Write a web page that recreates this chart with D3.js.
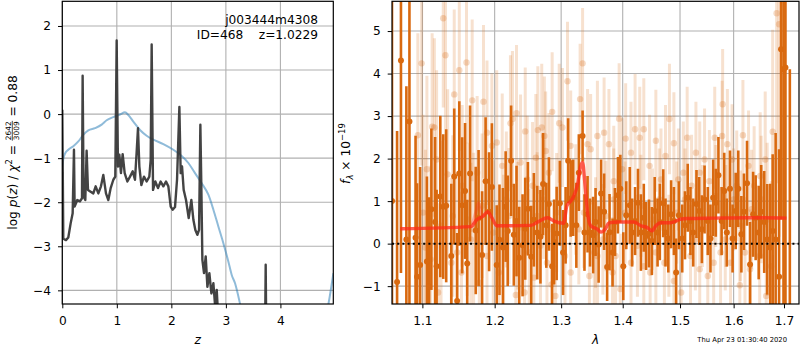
<!DOCTYPE html>
<html>
<head>
<meta charset="utf-8">
<script src="https://cdn.jsdelivr.net/npm/d3@7"></script>
<style>
  body { margin: 0; background: #fff; }
  svg { display: block; font-family: "DejaVu Sans", sans-serif; }
</style>
</head>
<body>
<figure id="chart" style="margin:0"></figure>
<script>
// ---- p(z) panel ----
const pzTicksX = [0, 1, 2, 3, 4];
const pzTicksY = [-4, -3, -2, -1, 0, 1, 2];

// dark curve: log p(z) from the fit
const darkZ = [0.000, 0.018, 0.067, 0.110, 0.153, 0.190, 0.214, 0.226, 0.275, 0.324, 0.361, 0.373, 0.391, 0.422, 0.446,
  0.471, 0.520, 0.569, 0.612, 0.661, 0.709, 0.752, 0.801, 0.844, 0.887, 0.936, 0.972, 0.997, 1.021, 1.046, 1.076,
  1.107, 1.144, 1.193, 1.242, 1.291, 1.333, 1.364, 1.388, 1.413, 1.450, 1.498, 1.547, 1.596, 1.621, 1.639, 1.664,
  1.706, 1.755, 1.804, 1.853, 1.902, 1.945, 1.988, 2.024, 2.067, 2.104, 2.147, 2.171, 2.196, 2.226, 2.269, 2.318,
  2.367, 2.404, 2.440, 2.477, 2.508, 2.532, 2.550, 2.569, 2.599, 2.630, 2.661, 2.697, 2.734, 2.771, 2.801, 2.832,
  2.862, 2.950, 3.300, 3.715, 3.730, 3.745, 4.000];
const darkLogP = [0.10, -2.83, -2.86, -2.80, -2.48, -2.25, -0.81, -2.10, -1.95, -1.98, -1.91, 0.87, -1.87, -1.95, -0.83,
  -1.72, -1.76, -1.80, -1.64, -1.80, -1.64, -1.38, -1.80, -1.95, -1.68, -1.49, -1.42, 1.67, -1.19, -0.92, -1.34,
  -0.91, -1.34, -1.53, -1.42, -1.30, -1.49, -0.85, -0.32, -1.19, -1.61, -1.42, -1.53, -1.42, -1.04, 1.58, -1.72,
  -1.53, -1.68, -1.53, -1.64, -1.53, -1.64, -2.10, -2.17, -2.11, -1.49, 0.16, -1.34, -1.19, -1.72, -1.95, -2.36,
  -1.95, -2.40, -2.63, -2.74, -2.63, -0.24, -1.64, -3.31, -3.61, -3.23, -3.92, -3.61, -4.07, -3.84, -4.33, -3.99,
  -4.67, -5.20, -5.60, -5.60, -3.42, -5.60, -5.80];

// blue curve: prior-weighted p(z)
const blueZ = [0.000, 0.018, 0.049, 0.110, 0.202, 0.294, 0.385, 0.477, 0.599, 0.722, 0.813, 0.936, 1.058, 1.150,
  1.211, 1.303, 1.425, 1.547, 1.670, 1.853, 2.037, 2.190, 2.312, 2.434, 2.557, 2.679, 2.771, 2.862, 2.954, 3.046,
  3.107, 3.168, 3.260, 3.321, 3.500, 4.000, 4.500, 4.800, 4.881, 4.972];
const blueLogP = [-1.19, -1.02, -0.90, -0.81, -0.73, -0.62, -0.47, -0.37, -0.32, -0.24, -0.14, -0.07, -0.01, 0.04,
  -0.02, -0.17, -0.36, -0.49, -0.58, -0.68, -0.81, -0.95, -1.11, -1.34, -1.57, -1.83, -2.17, -2.55, -2.93, -3.35,
  -3.65, -3.84, -4.31, -4.67, -5.40, -6.20, -5.60, -4.80, -4.31, -3.61];

// ---- spectrum panel ----
const specTicksX = [1.1, 1.2, 1.3, 1.4, 1.5, 1.6, 1.7];
const specTicksY = [-1, 0, 1, 2, 3, 4, 5];

const darkWave = [1.0605, 1.067, 1.072, 1.079, 1.083, 1.091, 1.093, 1.097, 1.106, 1.109, 1.112, 1.117, 1.119, 1.124,
  1.128, 1.132, 1.139, 1.143, 1.147, 1.150, 1.154, 1.158, 1.161, 1.165, 1.173, 1.177, 1.182, 1.187, 1.192, 1.196,
  1.203, 1.207, 1.212, 1.216, 1.219, 1.224, 1.228, 1.232, 1.236, 1.241, 1.245, 1.249, 1.254, 1.258, 1.263, 1.268,
  1.272, 1.277, 1.281, 1.286, 1.289, 1.293, 1.298, 1.303, 1.307, 1.311, 1.315, 1.319, 1.324, 1.328, 1.334, 1.337,
  1.342, 1.346, 1.351, 1.355, 1.360, 1.364, 1.369, 1.374, 1.378, 1.383, 1.387, 1.392, 1.396, 1.401, 1.406, 1.412,
  1.416, 1.421, 1.426, 1.431, 1.436, 1.440, 1.445, 1.450, 1.455, 1.460, 1.464, 1.470, 1.474, 1.479, 1.484, 1.489,
  1.493, 1.498, 1.504, 1.509, 1.514, 1.519, 1.524, 1.530, 1.535, 1.540, 1.545, 1.551, 1.556, 1.561, 1.566, 1.571,
  1.577, 1.582, 1.587, 1.593, 1.598, 1.604, 1.609, 1.615, 1.620, 1.626, 1.632, 1.638, 1.643, 1.649, 1.654, 1.660,
  1.666, 1.672, 1.677, 1.683, 1.690, 1.694, 1.699, 1.703, 1.712];
const darkFlux = [1.0, -0.9, 4.31, 0.10, 2.87, 0.14, -0.78, -0.50, -0.42, -1.01, 0.81, 0.51, -0.53, 1.11,
  0.87, 0.89, -0.29, 1.58, -1.35, 1.65, 0.90, 1.24, -0.47, 1.65, 0.31, 0.60, -0.27, 1.47, 0.75, 1.33,
  -0.50, 0.09, -0.09, 0.87, 0.30, 1.95, 0.21, 0.53, -0.33, -0.04, 0.35, 0.82, -0.31, 0.56, 0.26, 0.16,
  1.40, 0.43, 0.93, -0.53, 0.04, 0.24, 0.95, -0.21, 0.43, 1.95, 1.06, 1.08, 0.43, 1.67, 2.53, 0.26,
  0.69, 0.26, 0.20, 0.51, -0.02, 1.18, 0.75, -0.55, 0.27, -0.21, 0.51, 1.14, 1.29, -0.53, 0.67, 0.90,
  0.26, 0.53, 0.96, 0.26, 0.61, 0.18, 0.24, 0.06, 0.77, 0.26, 0.51, 0.95, 0.26, 0.12, 0.69, 0.53,
  -0.68, 0.67, 0.12, 0.43, 1.08, 0.53, 0.26, 0.93, 0.77, 0.34, 1.04, 0.53, 0.12, 1.08, 0.96, 1.61,
  0.53, 1.24, 0.26, 1.29, 0.12, 0.77, 1.29, 0.22, 0.75, 1.42, -0.49, 0.69, 0.61, 0.26, 0.75, 0.51,
  0.10, -0.09, 0.30, 0.10, -0.78, 4.57, 4.10, 4.14, -1.6];
const darkErr = [6.5, 3.55, 5.0, 3.6, 5.0, 2.4, 2.2, 2.3, 2.0, 2.1, 1.9, 2.0, 1.8, 1.9,
  1.7, 1.8, 1.7, 1.6, 1.6, 1.7, 1.6, 1.6, 1.5, 1.6, 1.5, 1.6, 1.5, 1.5, 1.4, 1.5,
  1.4, 1.3, 1.4, 1.3, 1.3, 1.3, 1.2, 1.3, 1.2, 1.2, 1.2, 1.1, 1.2, 1.1, 1.1, 1.1,
  1.2, 1.0, 1.1, 1.0, 1.0, 1.1, 1.0, 1.0, 0.9, 1.0, 0.9, 0.9, 1.0, 0.9, 0.6, 0.9,
  0.9, 0.8, 0.9, 0.8, 0.9, 0.8, 0.9, 0.8, 0.9, 0.8, 0.8, 0.9, 0.8, 0.8, 0.8, 0.9,
  0.8, 0.8, 0.8, 0.9, 0.8, 0.8, 0.8, 0.8, 0.8, 0.8, 0.9, 0.8, 0.8, 0.8, 0.8, 0.8,
  0.8, 0.8, 0.8, 0.8, 0.8, 0.8, 0.8, 0.8, 0.8, 0.8, 0.8, 0.8, 0.8, 0.9, 0.8, 0.9,
  0.8, 0.9, 0.8, 0.9, 0.8, 0.9, 0.9, 0.9, 0.9, 1.0, 1.0, 1.0, 1.0, 1.1, 1.1, 1.2,
  1.3, 1.5, 1.8, 2.5, 3.0, 4.0, 6.0, 6.0, 5.7];

// faint second grism
const lightWave = [1.094, 1.099, 1.101, 1.104, 1.106, 1.111, 1.113, 1.116, 1.119, 1.121, 1.125, 1.128, 1.131, 1.134,
  1.139, 1.141, 1.143, 1.147, 1.150, 1.153, 1.154, 1.160, 1.161, 1.166, 1.168, 1.170, 1.175, 1.178, 1.182, 1.184,
  1.189, 1.189, 1.196, 1.198, 1.203, 1.206, 1.211, 1.213, 1.217, 1.221, 1.223, 1.226, 1.231, 1.232, 1.234, 1.238,
  1.244, 1.245, 1.248, 1.251, 1.256, 1.258, 1.261, 1.263, 1.264, 1.268, 1.270, 1.273, 1.274, 1.276, 1.278, 1.281,
  1.285, 1.286, 1.291, 1.293, 1.297, 1.302, 1.306, 1.310, 1.315, 1.315, 1.323, 1.328, 1.330, 1.334, 1.336, 1.342,
  1.345, 1.347, 1.353, 1.355, 1.358, 1.358, 1.367, 1.369, 1.372, 1.377, 1.383, 1.385, 1.385, 1.388, 1.394, 1.396,
  1.399, 1.404, 1.405, 1.414, 1.414, 1.421, 1.425, 1.429, 1.431, 1.436, 1.436, 1.446, 1.447, 1.451, 1.457, 1.457,
  1.463, 1.466, 1.472, 1.474, 1.480, 1.481, 1.489, 1.489, 1.494, 1.497, 1.502, 1.506, 1.509, 1.513, 1.519, 1.521,
  1.528, 1.529, 1.536, 1.536, 1.541, 1.545, 1.551, 1.554, 1.562, 1.564, 1.566, 1.575, 1.578, 1.579, 1.584, 1.585,
  1.588, 1.594, 1.597, 1.600, 1.606, 1.612, 1.613, 1.618, 1.622, 1.629, 1.632, 1.635, 1.640, 1.651, 1.652, 1.654,
  1.662, 1.664, 1.666, 1.674, 1.677, 1.685, 1.690];
const lightFlux = [2.55, 4.24, 0.73, -0.09, 1.75, -0.37, 2.75, 2.73, 1.98, -1.15, 0.42, 5.30, 4.43, 1.63,
  -0.45, 0.65, 3.51, -0.21, 4.08, -0.68, 1.36, 4.26, 0.57, 0.10, 3.37, 0.34, 1.67, -0.92, 0.89, 3.34,
  2.61, -0.29, 2.30, 0.26, 2.38, -0.68, 1.83, 0.02, 1.04, 0.65, 2.83, 2.93, -1.21, 3.07, 0.42, 1.91,
  -1.15, 2.64, 1.51, -0.21, 1.36, -0.80, 2.02, 0.65, 2.67, -0.05, 2.73, 1.04, 2.53, 2.18, -0.45, 1.67,
  -0.96, 3.10, -1.23, 0.73, 2.83, 2.73, -0.29, 3.82, 2.30, -0.68, 1.04, 0.34, 3.40, 4.24, 0.73, 2.34,
  -0.76, 2.22, -0.21, 0.26, 2.53, -0.29, 0.10, 2.61, 0.65, 2.34, -0.68, 1.47, 1.04, -0.29, 2.94, -1.07,
  1.75, 0.73, 2.47, 2.14, -0.45, 2.69, -0.05, 2.49, 0.89, 2.69, -0.53, 1.83, -0.68, 0.57, 2.42, -0.21,
  1.04, 1.51, -0.45, 2.06, -0.05, 2.93, 2.36, -0.88, 0.73, 1.51, -1.15, 1.67, 1.04, 2.49, -0.29, 1.36,
  0.10, 2.14, 1.67, -0.60, 0.65, 1.98, -0.76, 1.47, -0.45, 2.49, 1.12, -0.21, 2.53, 3.28, 0.10, 0.65,
  2.34, -0.45, 1.98, 1.04, 1.36, -0.98, 0.42, 2.55, -0.21, 1.83, -0.60, 0.81, 1.36, -0.29, 1.59, 1.04,
  1.98, -1.23, 0.57, -0.53, 2.63, 5.42, 5.16];
const lightErr = [2.4, 2.4, 2.3, 2.3, 2.2, 2.2, 2.2, 2.1, 2.1, 2.1, 2.0, 2.1, 2.0, 2.0,
  2.0, 1.9, 2.0, 1.9, 1.9, 1.9, 1.9, 1.9, 1.8, 1.8, 1.9, 1.8, 1.8, 1.8, 1.7, 1.8,
  1.7, 1.7, 1.7, 1.7, 1.7, 1.6, 1.7, 1.6, 1.6, 1.6, 1.6, 1.6, 1.6, 1.6, 1.5, 1.6,
  1.5, 1.5, 1.5, 1.5, 1.5, 1.5, 1.5, 1.5, 1.5, 1.4, 1.5, 1.4, 1.4, 1.4, 1.4, 1.4,
  1.4, 1.4, 1.4, 1.4, 1.4, 1.4, 1.3, 1.4, 1.3, 1.3, 1.3, 1.3, 1.3, 1.3, 1.3, 1.3,
  1.3, 1.3, 1.3, 1.3, 1.3, 1.3, 1.3, 1.3, 1.3, 1.3, 1.3, 1.3, 1.2, 1.3, 1.3, 1.3,
  1.2, 1.2, 1.3, 1.2, 1.2, 1.3, 1.2, 1.2, 1.2, 1.2, 1.2, 1.2, 1.2, 1.2, 1.2, 1.2,
  1.2, 1.2, 1.2, 1.2, 1.2, 1.3, 1.2, 1.2, 1.2, 1.2, 1.2, 1.2, 1.2, 1.2, 1.2, 1.2,
  1.2, 1.2, 1.2, 1.2, 1.2, 1.2, 1.2, 1.2, 1.2, 1.2, 1.2, 1.2, 1.3, 1.3, 1.2, 1.2,
  1.3, 1.2, 1.3, 1.2, 1.3, 1.3, 1.3, 1.3, 1.3, 1.3, 1.4, 1.4, 1.4, 1.5, 1.5, 1.5,
  1.6, 1.7, 1.8, 2.0, 2.4, 4.0, 5.0];

// best-fit model
const modelWave = [1.071, 1.166, 1.175, 1.184, 1.190, 1.196, 1.203, 1.213, 1.254, 1.266, 1.279, 1.289, 1.304, 1.309,
  1.315, 1.320, 1.326, 1.331, 1.334, 1.338, 1.342, 1.347, 1.358, 1.364, 1.371, 1.377, 1.391, 1.419, 1.431, 1.442,
  1.450, 1.457, 1.466, 1.483, 1.489, 1.500, 1.513, 1.562, 1.626, 1.659, 1.705];
const modelFlux = [0.35, 0.40, 0.57, 0.65, 0.75, 0.61, 0.42, 0.42, 0.43, 0.53, 0.61, 0.53, 0.48, 0.89,
  1.00, 1.12, 1.40, 1.83, 1.91, 1.36, 0.73, 0.42, 0.34, 0.27, 0.34, 0.49, 0.51, 0.51, 0.42, 0.38,
  0.30, 0.42, 0.49, 0.49, 0.51, 0.57, 0.59, 0.60, 0.61, 0.61, 0.60];
const modelAltWave = [1.168, 1.174, 1.177, 1.181, 1.186];
const modelAltFlux = [0.45, 0.80, 0.96, 0.70, 0.66];

const W = 800, H = 350;
const fontSize = 12.2;
const orange = "#d9690f";

const svg = d3.select("figure#chart").append("svg")
  .attr("width", W)
  .attr("height", H);

const left = { x0: 62.3, x1: 333.3, y0: 1.3, y1: 304 };
const right = { x0: 392, x1: 799, y0: 1.3, y1: 304 };

// scales
const zx = d3.scaleLinear().domain([0, 4.97]).range([left.x0, left.x1]);
const zy = d3.scaleLinear().domain([-4.31, 2.56]).range([left.y1, left.y0]);
const lx = d3.scaleLog().domain([1.0605, 1.731]).range([right.x0, right.x1]);
const fy = d3.scaleLinear().domain([-1.42, 5.70]).range([right.y1, right.y0]);

const fmt = d3.format("");

function clip(id, b) {
  svg.append("clipPath").attr("id", id)
    .append("rect")
    .attr("x", b.x0).attr("y", b.y0)
    .attr("width", b.x1 - b.x0).attr("height", b.y1 - b.y0);
}
clip("clipL", left);
clip("clipR", right);

function grid(b, xs, ys, xv, yv) {
  const g = svg.append("g").attr("stroke", "#b0b0b0").attr("stroke-width", 1.1);
  g.selectAll(".gx").data(xv).enter().append("line")
    .attr("x1", d => xs(d)).attr("x2", d => xs(d))
    .attr("y1", b.y0).attr("y2", b.y1);
  g.selectAll(".gy").data(yv).enter().append("line")
    .attr("y1", d => ys(d)).attr("y2", d => ys(d))
    .attr("x1", b.x0).attr("x2", b.x1);
}

function axes(b, xs, ys, xv, yv, xf) {
  const ax = svg.append("g")
    .attr("transform", "translate(0," + b.y1 + ")")
    .call(d3.axisBottom(xs).tickValues(xv).tickFormat(xf).tickSize(4.3).tickPadding(8.3));
  const ay = svg.append("g")
    .attr("transform", "translate(" + b.x0 + ",0)")
    .call(d3.axisLeft(ys).tickValues(yv).tickFormat(fmt).tickSize(4.3).tickPadding(7));
  [ax, ay].forEach(a => {
    a.select(".domain").remove();
    a.attr("font-family", "DejaVu Sans").attr("font-size", fontSize);
    a.selectAll("line").attr("stroke", "#000").attr("stroke-width", 1);
    a.selectAll("text").attr("fill", "#000");
  });
  svg.append("rect")
    .attr("x", b.x0).attr("y", b.y0)
    .attr("width", b.x1 - b.x0).attr("height", b.y1 - b.y0)
    .attr("fill", "none").attr("stroke", "#000").attr("stroke-width", 1.2);
}

// ---- left panel ----
grid(left, zx, zy, pzTicksX, pzTicksY);

const gl = svg.append("g").attr("clip-path", "url(#clipL)");
gl.append("path")
  .datum(blueZ.map((z, i) => [z, blueLogP[i]]))
  .attr("d", d3.line().x(d => zx(d[0])).y(d => zy(d[1])).curve(d3.curveMonotoneX))
  .attr("fill", "none")
  .attr("stroke", "#1f77b4").attr("stroke-opacity", 0.5)
  .attr("stroke-width", 2);
gl.append("path")
  .datum(darkZ.map((z, i) => [z, darkLogP[i]]))
  .attr("d", d3.line().x(d => zx(d[0])).y(d => zy(d[1])))
  .attr("fill", "none")
  .attr("stroke", "#333").attr("stroke-opacity", 0.92)
  .attr("stroke-width", 2.4)
  .attr("stroke-linejoin", "round");

axes(left, zx, zy, pzTicksX, pzTicksY, fmt);

svg.append("text")
  .attr("x", 318).attr("y", 24)
  .attr("text-anchor", "end").attr("font-size", fontSize)
  .text("j003444m4308");
svg.append("text")
  .attr("x", 318).attr("y", 39)
  .attr("text-anchor", "end").attr("font-size", fontSize)
  .text("ID=468\u00a0\u00a0\u00a0\u00a0z=1.0229");

// ---- right panel ----
grid(right, lx, fy, specTicksX, specTicksY);

const gr = svg.append("g").attr("clip-path", "url(#clipR)");

const light = lightWave.map((w, i) => ({ w: w, f: lightFlux[i], e: lightErr[i] }));
const dark = darkWave.map((w, i) => ({ w: w, f: darkFlux[i], e: darkErr[i] }));

gr.selectAll(".lbar").data(light).enter().append("line")
  .attr("x1", d => lx(d.w)).attr("x2", d => lx(d.w))
  .attr("y1", d => fy(d.f - d.e)).attr("y2", d => fy(d.f + d.e))
  .attr("stroke", orange).attr("stroke-opacity", 0.2).attr("stroke-width", 3);
gr.selectAll(".ldot").data(light).enter().append("circle")
  .attr("cx", d => lx(d.w)).attr("cy", d => fy(d.f)).attr("r", 3.2)
  .attr("fill", orange).attr("fill-opacity", 0.25);

gr.selectAll(".dbar").data(dark).enter().append("line")
  .attr("x1", d => lx(d.w)).attr("x2", d => lx(d.w))
  .attr("y1", d => fy(d.f - d.e)).attr("y2", d => fy(d.f + d.e))
  .attr("stroke", orange).attr("stroke-width", 2.6);
gr.selectAll(".ddot").data(dark).enter().append("circle")
  .attr("cx", d => lx(d.w)).attr("cy", d => fy(d.f)).attr("r", 3)
  .attr("fill", orange);

const mline = d3.line().x(d => lx(d[0])).y(d => fy(d[1])).curve(d3.curveMonotoneX);
gr.append("path")
  .datum(modelAltWave.map((w, i) => [w, modelAltFlux[i]]))
  .attr("d", mline)
  .attr("fill", "none").attr("stroke", "#ff3020").attr("stroke-opacity", 0.3)
  .attr("stroke-width", 3);
gr.append("path")
  .datum(modelWave.map((w, i) => [w, modelFlux[i]]))
  .attr("d", mline)
  .attr("fill", "none").attr("stroke", "#ff2a1a").attr("stroke-opacity", 0.75)
  .attr("stroke-width", 3.4)
  .attr("stroke-linejoin", "round");

gr.append("line")
  .attr("x1", right.x0).attr("x2", right.x1)
  .attr("y1", fy(0)).attr("y2", fy(0))
  .attr("stroke", "#000").attr("stroke-width", 2)
  .attr("stroke-dasharray", "2,3.2");

axes(right, lx, fy, specTicksX, specTicksY, d3.format(".1f"));

// ---- axis labels ----
svg.append("text")
  .attr("x", (left.x0 + left.x1) / 2).attr("y", 344)
  .attr("text-anchor", "middle").attr("font-size", fontSize).attr("font-style", "italic")
  .text("z");
svg.append("text")
  .attr("x", (right.x0 + right.x1) / 2).attr("y", 344)
  .attr("text-anchor", "middle").attr("font-size", fontSize).attr("font-style", "italic")
  .text("λ");

// rotated label built piece by piece so the fraction sits in line
function rotLabel(cx, cy, pieces) {
  const outer = svg.append("g").attr("transform", "translate(" + cx + "," + cy + ") rotate(-90)");
  const inner = outer.append("g");
  let pos = 0;
  pieces.forEach(p => {
    if (p.num) {
      const small = 7.4;
      const n = inner.append("text").attr("font-size", small).attr("y", -5.8).text(p.num);
      const d = inner.append("text").attr("font-size", small).attr("y", 2.4).text(p.den);
      const wn = n.node().getComputedTextLength();
      const wd = d.node().getComputedTextLength();
      const w = Math.max(wn, wd) + 2;
      n.attr("x", pos + (w - wn) / 2);
      d.attr("x", pos + (w - wd) / 2);
      inner.append("line")
        .attr("x1", pos + 0.5).attr("x2", pos + w - 0.5)
        .attr("y1", -4.2).attr("y2", -4.2)
        .attr("stroke", "#000").attr("stroke-width", 0.7);
      pos += w;
      return;
    }
    const t = inner.append("text")
      .attr("x", pos)
      .attr("y", p.dy || 0)
      .attr("font-size", p.size || fontSize)
      .attr("font-style", p.it ? "italic" : "normal")
      .text(p.t.replace(/ /g, "\u00a0"));
    pos += t.node().getComputedTextLength();
  });
  inner.attr("transform", "translate(" + (-pos / 2) + ",0)");
}

rotLabel(16.5, 152.5, [
  { t: "log " },
  { t: "p", it: true },
  { t: "(" },
  { t: "z", it: true },
  { t: ") / " },
  { t: "χ", it: true },
  { t: "2", size: 8.5, dy: -5 },
  { t: " = " },
  { num: "2642", den: "3009" },
  { t: " = 0.88" }
]);

rotLabel(349.5, 153.5, [
  { t: "f", it: true },
  { t: "λ", it: true, size: 8.5, dy: 3 },
  { t: " × 10" },
  { t: "−19", size: 8.5, dy: -5 }
]);

// timestamp
svg.append("text")
  .attr("x", 787).attr("y", 342)
  .attr("text-anchor", "end").attr("font-size", 6.8)
  .text("Thu Apr 23 01:30:40 2020");
</script>
</body>
</html>
